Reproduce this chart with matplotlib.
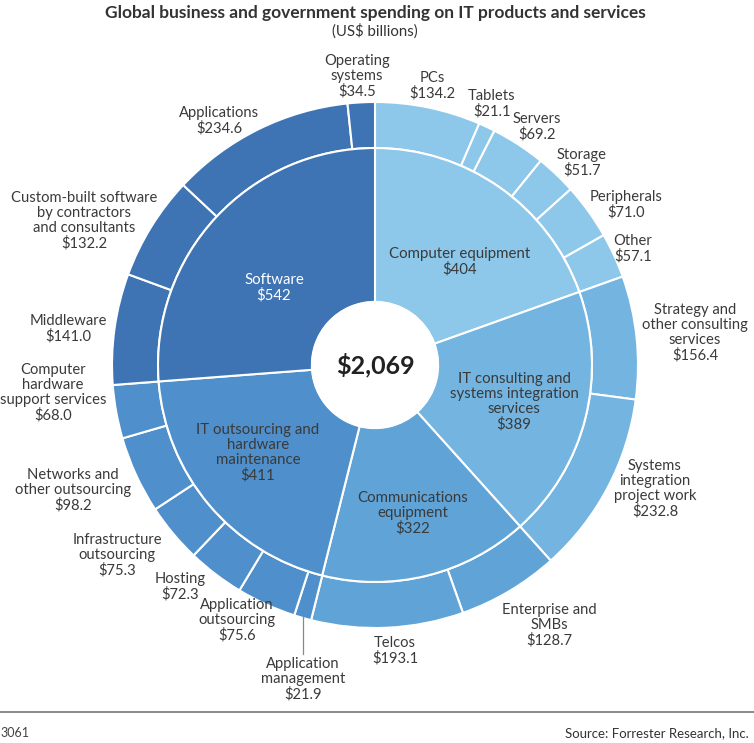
import matplotlib
matplotlib.use("Agg")
import matplotlib.pyplot as plt

plt.rcParams['font.family'] = ['Lato', 'DejaVu Sans']

# inner ring (segments)
inner_names = ["Computer equipment", "IT consulting and\nsystems integration\nservices",
               "Communications\nequipment", "IT outsourcing and\nhardware\nmaintenance", "Software"]
inner_values = [404, 389, 322, 411, 542]
inner_colors = ["#8dc7ea", "#73b4e0", "#5fa3d7", "#4f8fcb", "#3e73b4"]

# outer ring (sub-segments), clockwise from the top
outer_names = ["PCs", "Tablets", "Servers", "Storage", "Peripherals", "Other",
               "Strategy and\nother consulting\nservices", "Systems\nintegration\nproject work",
               "Enterprise and\nSMBs", "Telcos",
               "Application\nmanagement", "Application\noutsourcing", "Hosting",
               "Infrastructure\noutsourcing", "Networks and\nother outsourcing",
               "Computer\nhardware\nsupport services",
               "Middleware", "Custom-built software\nby contractors\nand consultants",
               "Applications", "Operating\nsystems"]
outer_values = [134.2, 21.1, 69.2, 51.7, 71.0, 57.1,
                156.4, 232.8,
                128.7, 193.1,
                21.9, 75.6, 72.3, 75.3, 98.2, 68.0,
                141.0, 132.2, 234.6, 34.5]
outer_group = [0] * 6 + [1] * 2 + [2] * 2 + [3] * 6 + [4] * 4
total = 2069

W, H = 754, 743
cx, cy, R = 375, 365, 263  # pixel centre and radius


def px(x, y):
    return (x - cx) / R, (cy - y) / R


fig = plt.figure(figsize=(W / 100, H / 100), dpi=100)
ax = fig.add_axes([0, 0, 1, 1])

ax.pie(outer_values, radius=1.0, startangle=90, counterclock=False,
       colors=[inner_colors[g] for g in outer_group],
       wedgeprops=dict(width=0.175, edgecolor="white", linewidth=1.5))
ax.pie(inner_values, radius=0.825, startangle=90, counterclock=False,
       colors=inner_colors,
       wedgeprops=dict(width=0.585, edgecolor="white", linewidth=1.5))
ax.add_patch(plt.Circle((0, 0), 0.24, color="white", zorder=5))

ax.set_xlim(-cx / R, (W - cx) / R)
ax.set_ylim(-(H - cy) / R, cy / R)
ax.set_aspect("equal")
ax.axis("off")

txt = "#3a3a3a"

ax.text(0, 0, f"${total:,}", ha="center", va="center", fontsize=18,
        fontweight="bold", color="#222222", zorder=6)

# inner labels (pixel positions)
inner_pos = [(460, 262), (514, 402), (413, 513), (258, 453), (274, 288)]
for i, (name, v) in enumerate(zip(inner_names, inner_values)):
    c = "white" if i == 4 else txt
    ax.text(*px(*inner_pos[i]), f"{name}\n${v}", ha="center", va="center",
            fontsize=10.8, color=c, linespacing=1.08)

# outer labels (pixel positions)
outer_pos = [(432, 86), (492, 104), (537, 127), (582, 163), (626, 205), (633, 249),
             (695, 333), (655, 489),
             (549, 625), (395, 651),
             (303, 679), (237, 620), (180, 587), (117, 555), (73, 490), (53, 393),
             (68, 329), (84, 221), (219, 121), (357, 76)]
for name, v, p in zip(outer_names, outer_values, outer_pos):
    ax.text(*px(*p), f"{name}\n${v:.1f}", ha="center", va="center",
            fontsize=10.6, color=txt, linespacing=1.08)

# leader for application management
ax.plot(*zip(px(303, 617), px(303, 654)), color="#888888", lw=0.9)

fig.text(375 / W, 1 - 13 / H, "Global business and government spending on IT products and services",
         ha="center", va="center", fontsize=12.5, fontweight="bold", color="#333333")
fig.text(375 / W, 1 - 31 / H, "(US$ billions)", ha="center", va="center",
         fontsize=10.8, color="#333333")

# footer
fig.add_artist(plt.Line2D([0, 1], [1 - 712 / H, 1 - 712 / H], color="#777777", lw=1.2))
fig.text(0.0, 1 - 733 / H, "3061", ha="left", va="center", fontsize=9, color="#444444")
fig.text(749 / W, 1 - 733 / H, "Source: Forrester Research, Inc.", ha="right", va="center",
         fontsize=9.5, color="#333333")

fig.savefig("out.png", dpi=100)
